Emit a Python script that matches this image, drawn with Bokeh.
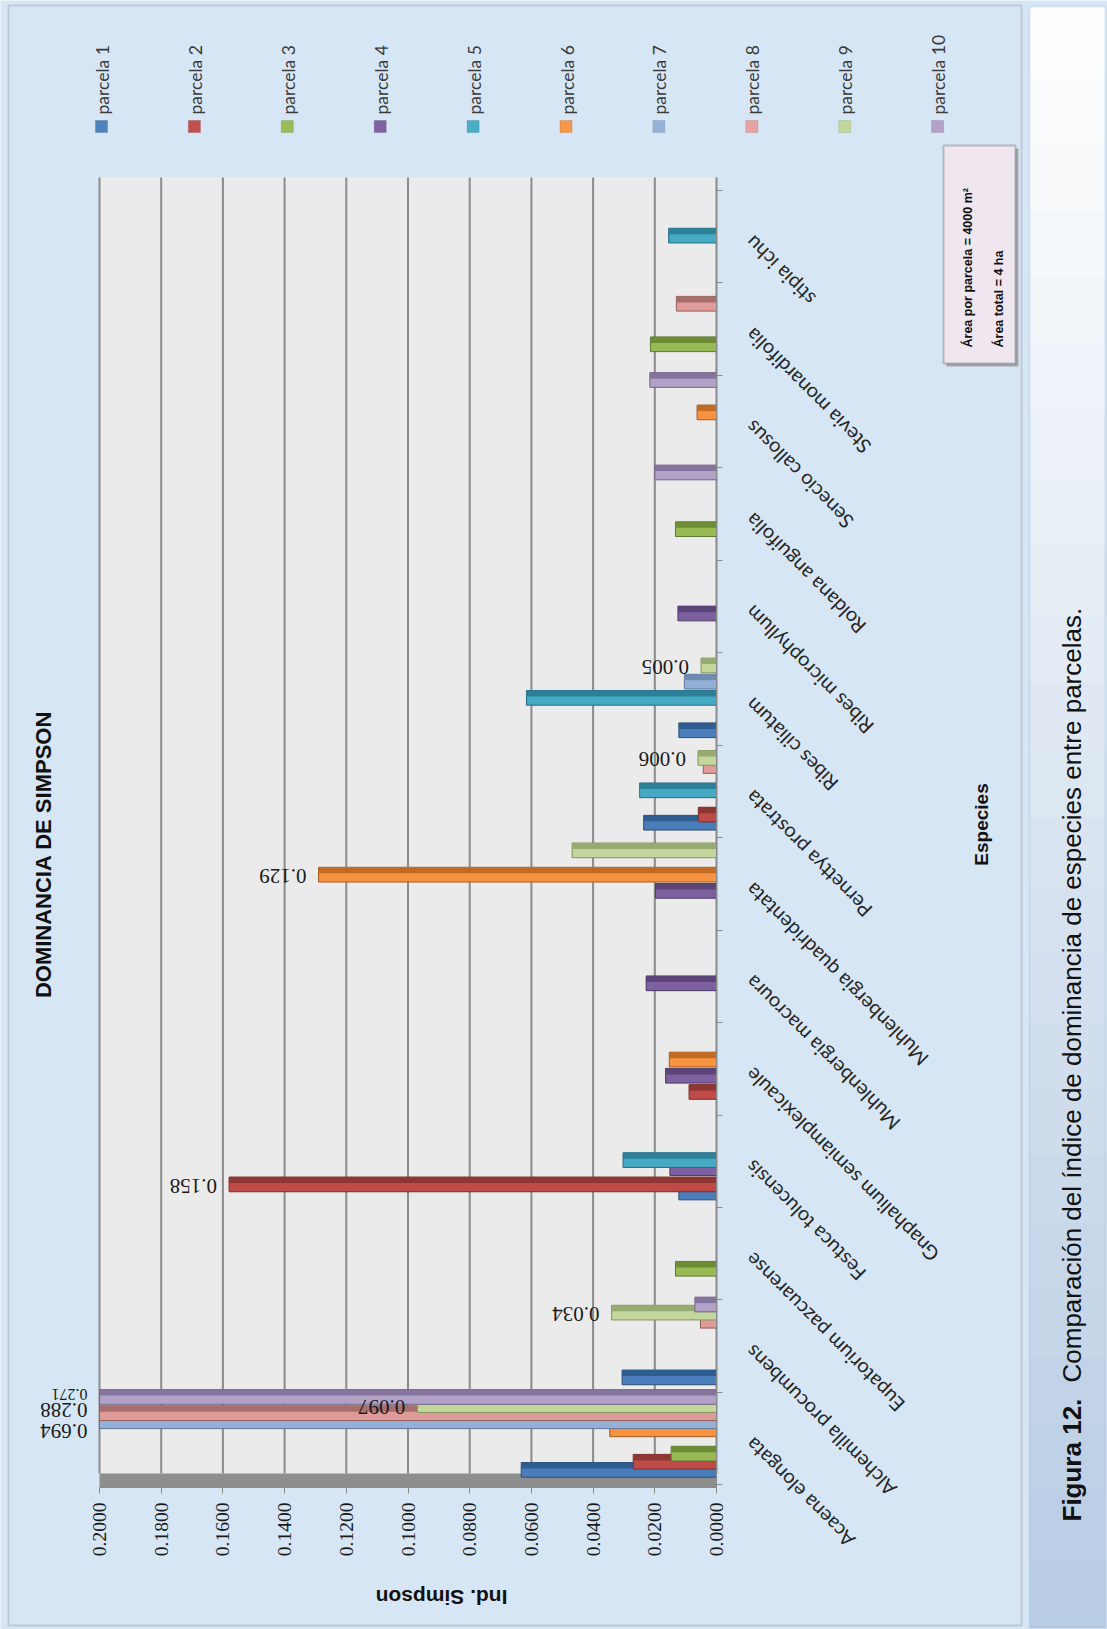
import math
from bokeh.plotting import figure
from bokeh.models import Range1d, FixedTicker, PrintfTickFormatter, Label, BoxAnnotation
from bokeh.embed import file_html
from bokeh.resources import INLINE

# ---------------- data ----------------
species = ["Acaena elongata", "Alchemilla procumbens", "Eupatorium pazcuarense",
           "Festuca tolucensis", "Gnaphalium semiamplexicaule", "Muhlenbergia macroura",
           "Muhlenbergia quadridentata", "Pernettya prostrata", "Ribes ciliatum",
           "Ribes microphyllum", "Roldana anguifolia", "Senecio callosus",
           "Stevia monardifolia", "stipia ichu"]
parcelas = ["parcela 1", "parcela 2", "parcela 3", "parcela 4", "parcela 5",
            "parcela 6", "parcela 7", "parcela 8", "parcela 9", "parcela 10"]

parcela_1 = [0.0633, 0.0306, 0, 0.0122, 0, 0, 0, 0.0236, 0.0122, 0, 0, 0, 0, 0]
parcela_2 = [0.027, 0, 0, 0.158, 0.0089, 0, 0, 0.0059, 0, 0, 0, 0, 0, 0]
parcela_3 = [0.0147, 0, 0.0133, 0, 0, 0, 0, 0, 0, 0, 0.0133, 0, 0.0214, 0]
parcela_4 = [0, 0, 0, 0.0151, 0.0165, 0.0228, 0.0198, 0, 0, 0.0125, 0, 0, 0, 0]
parcela_5 = [0, 0, 0, 0.0303, 0, 0, 0, 0.0249, 0.0616, 0, 0, 0, 0, 0.0155]
parcela_6 = [0.0346, 0, 0, 0, 0.0153, 0, 0.129, 0, 0, 0, 0, 0.0063, 0, 0]
parcela_7 = [0.694, 0, 0, 0, 0, 0, 0, 0, 0.0104, 0, 0, 0, 0, 0]
parcela_8 = [0.288, 0.0052, 0, 0, 0, 0, 0, 0.0043, 0, 0, 0, 0, 0.013, 0]
parcela_9 = [0.097, 0.034, 0, 0, 0, 0, 0.0468, 0.006, 0.005, 0, 0, 0, 0, 0]
parcela_10 = [0.271, 0.007, 0, 0, 0, 0, 0, 0, 0, 0, 0.020, 0.0216, 0, 0]
series_values = [parcela_1, parcela_2, parcela_3, parcela_4, parcela_5,
                 parcela_6, parcela_7, parcela_8, parcela_9, parcela_10]

value_ticks = [0.0, 0.02, 0.04, 0.06, 0.08, 0.10, 0.12, 0.14, 0.16, 0.18, 0.20]
# (parcela index, species index) of the bars that carry a value label
labelled_bars = [(6, 0), (7, 0), (9, 0), (8, 0), (8, 1), (1, 3), (5, 6), (8, 7), (8, 8)]

# ---------------- styles ----------------
body_col = ["#4A7EBB", "#BE4B48", "#98B954", "#7D60A0", "#46AAC5",
            "#F69240", "#93B0D6", "#DE9B99", "#C3D69B", "#B3A2C7"]
top_col = ["#2F5D92", "#8E3634", "#6E8C36", "#5A4478", "#2C8199",
           "#C06C25", "#6F8BB0", "#A86E6C", "#97AA72", "#84739C"]
edge_col = ["#2C4D75", "#7A2E2C", "#5E7830", "#4B3966", "#266C80",
            "#A35B1F", "#5F7799", "#935E5C", "#82945F", "#726389"]
legend_col = ["#4F81BD", "#C0504D", "#9BBB59", "#8064A2", "#4BACC6",
              "#F79646", "#95B3D7", "#E6A3A1", "#C3D69B", "#B3A2C7"]
legend_edge = ["#385D8A", "#8C3836", "#71893F", "#5C4776", "#357D91",
               "#B66D31", "#6F87A8", "#A86E6C", "#8FA06B", "#83769A"]

W, H = 1107, 1629
PL, PR, PT, PB = 99, 716, 177, 1487          # plot area in pixels
CAT0, CAT_H = 1484.3, 92.45                  # category axis origin / step in pixels
VMAX = 0.2


def X(px):
    return VMAX * (PR - px) / (PR - PL)


def Y(py):
    return (CAT0 - py) / CAT_H


PLOT_TOP, PLOT_BOT = Y(PT), Y(PB)
BASE = 7.6 / CAT_H
STEP = 8.1 / CAT_H
BAR_H = 14.7 / CAT_H
TOP_H = 6.0 / CAT_H

BG = "#D7E6F5"
SANS = "Liberation Sans"

p = figure(width=W, height=H, x_range=Range1d(X(0), X(W)), y_range=Range1d(Y(H), Y(0)),
           y_axis_location="right", output_backend="svg", toolbar_location=None,
           title=None, min_border=0, min_border_left=0, min_border_right=0,
           min_border_top=0, min_border_bottom=0)
p.background_fill_color = BG
p.border_fill_color = BG
p.outline_line_color = None
p.xgrid.visible = False
p.ygrid.visible = False

# caption strip (vertical gradient white -> light blue)
n_band = 24
c0, c1 = (255, 255, 255), (184, 204, 228)
for b in range(n_band):
    t = (b + 0.5) / n_band
    col = "#%02X%02X%02X" % tuple(int(round(c0[m] + (c1[m] - c0[m]) * t)) for m in range(3))
    y_a = 6 + (1627 - 6) * b / n_band
    y_b = 6 + (1627 - 6) * (b + 1) / n_band
    p.add_layout(BoxAnnotation(left=X(1029), right=X(1105), top=Y(y_a), bottom=Y(y_b + 0.5),
                               fill_color=col, fill_alpha=1.0, line_color=None, level="underlay"))
p.add_layout(BoxAnnotation(left=X(1029), right=X(1105), top=Y(6), bottom=Y(1627),
                           fill_color=None, line_color="#9DB9DC", line_width=2, level="underlay"))

# plot area + floor
p.add_layout(BoxAnnotation(left=VMAX, right=0, top=PLOT_TOP, bottom=PLOT_BOT,
                           fill_color="#EBEBEB", fill_alpha=1.0, line_color=None, level="underlay"))
p.add_layout(BoxAnnotation(left=VMAX, right=0, top=Y(1473), bottom=PLOT_BOT,
                           fill_color="#8E8E8E", fill_alpha=1.0, line_color=None, level="underlay"))

# value gridlines
p.segment(x0=value_ticks, x1=value_ticks, y0=Y(1473), y1=PLOT_TOP,
          line_color="#8A8A8A", line_width=2)

# axes (fixed inside the canvas)
xa = p.xaxis[0]
xa.fixed_location = PLOT_BOT
xa.bounds = (0, VMAX)
xa.ticker = FixedTicker(ticks=value_ticks)
xa.formatter = PrintfTickFormatter(format="%.4f")
xa.major_label_orientation = math.pi / 2
xa.major_label_text_font = "Liberation Serif"
xa.major_label_text_font_size = "19.5px"
xa.major_label_text_color = "#1A1A1A"
xa.major_label_standoff = 9
xa.axis_line_color = "#8A8A8A"
xa.major_tick_line_color = "#8A8A8A"
xa.major_tick_out = 6
xa.major_tick_in = 0
xa.minor_tick_out = 0
xa.minor_tick_in = 0

ya = p.yaxis[0]
ya.fixed_location = 0
ya.bounds = (PLOT_BOT, PLOT_TOP)
ya.ticker = FixedTicker(ticks=[], minor_ticks=list(range(len(species) + 1)))
ya.axis_line_color = "#8A8A8A"
ya.minor_tick_line_color = "#8A8A8A"
ya.minor_tick_out = 6
ya.minor_tick_in = 0
ya.major_tick_out = 0
ya.major_tick_in = 0

# bars (later parcelas are drawn in front)
for k, vals in enumerate(series_values):
    idx = [i for i, v in enumerate(vals) if v > 0]
    bottoms = [i + BASE + k * STEP for i in idx]
    tops = [b + BAR_H for b in bottoms]
    lefts = [min(vals[i], VMAX) for i in idx]
    p.quad(left=lefts, right=0, bottom=bottoms, top=tops,
           fill_color=body_col[k], line_color=edge_col[k], line_width=1)
    p.quad(left=lefts, right=0, bottom=[t - TOP_H for t in tops], top=tops,
           fill_color=top_col[k], line_color=None)

# value labels
label_dy = {(6, 0): -9.5, (7, 0): 3.0, (9, 0): 2.5}
for (k, i) in labelled_bars:
    v = series_values[k][i]
    yc = i + BASE + k * STEP + BAR_H / 2
    p.add_layout(Label(x=min(v, VMAX), y=yc, x_offset=-12, y_offset=label_dy.get((k, i), -1.5),
                       text=f"{v:.3f}", angle=math.pi, text_align="left",
                       text_baseline="middle", text_font="Liberation Serif",
                       text_font_size="16px" if (k, i) == (9, 0) else "21px",
                       text_color="#1A1A1A"))

# category labels
for i, name in enumerate(species):
    p.add_layout(Label(x=X(748), y=i + 0.5, y_offset=-3, text=name, angle=3 * math.pi / 4,
                       text_align="right", text_baseline="middle", text_font="Lato",
                       text_font_size="20px", text_color="#262626"))

# titles
p.add_layout(Label(x=X(43), y=Y(854), text="DOMINANCIA DE SIMPSON", angle=math.pi / 2,
                   text_align="center", text_baseline="middle",
                   text_font=SANS, text_font_style="bold",
                   text_font_size="22px", text_color="#111111"))
p.add_layout(Label(x=X(441), y=Y(1597), text="Ind. Simpson", angle=math.pi,
                   text_align="center", text_baseline="middle", text_font=SANS,
                   text_font_style="bold", text_font_size="21px", text_color="#111111"))
p.add_layout(Label(x=X(981), y=Y(824), text="Especies", angle=math.pi / 2,
                   text_align="center", text_baseline="middle", text_font=SANS,
                   text_font_style="bold", text_font_size="19px", text_color="#111111"))

# legend
for j, name in enumerate(parcelas):
    cx = 101 + 92.9 * j
    p.add_layout(BoxAnnotation(left=X(cx - 6), right=X(cx + 6), top=Y(120), bottom=Y(132),
                               fill_color=legend_col[j], fill_alpha=1.0,
                               line_color=legend_edge[j], line_width=1))
    p.add_layout(Label(x=X(cx + 1), y=Y(114), text=name, angle=math.pi / 2,
                       text_align="left", text_baseline="middle", text_font="Lato",
                       text_font_size="17.5px", text_color="#3A3A3A"))

# info box
p.add_layout(BoxAnnotation(left=X(946), right=X(1018), top=Y(148), bottom=Y(366),
                           fill_color="#7F7F7F", fill_alpha=0.6, line_color=None))
p.add_layout(BoxAnnotation(left=X(943), right=X(1015), top=Y(145), bottom=Y(363),
                           fill_color="#EFE6EF", fill_alpha=1.0, line_color="#4D4D4D",
                           line_width=2))
p.add_layout(Label(x=X(967), y=Y(347), text="Área por  parcela = 4000 m²", angle=math.pi / 2,
                   text_align="left", text_baseline="middle", text_font=SANS,
                   text_font_style="bold", text_font_size="12.5px", text_color="#111111"))
p.add_layout(Label(x=X(998.5), y=Y(347), text="Área total = 4 ha", angle=math.pi / 2,
                   text_align="left", text_baseline="middle", text_font=SANS,
                   text_font_style="bold", text_font_size="12.5px", text_color="#111111"))

# page frame
p.add_layout(BoxAnnotation(left=X(8), right=X(1021), top=Y(5), bottom=Y(1625),
                           fill_color=None, line_color="#8A8A8A", line_width=2))

# caption
p.add_layout(Label(x=X(1071), y=Y(1521), text="Figura 12.", angle=math.pi / 2,
                   text_align="left", text_baseline="middle", text_font=SANS,
                   text_font_style="bold", text_font_size="26px", text_color="#111111"))
p.add_layout(Label(x=X(1071), y=Y(1382),
                   text="Comparación del índice de dominancia de especies entre parcelas.",
                   angle=math.pi / 2, text_align="left", text_baseline="middle",
                   text_font=SANS, text_font_size="26px", text_color="#111111"))

open("out.html", "w").write(file_html(p, INLINE))
